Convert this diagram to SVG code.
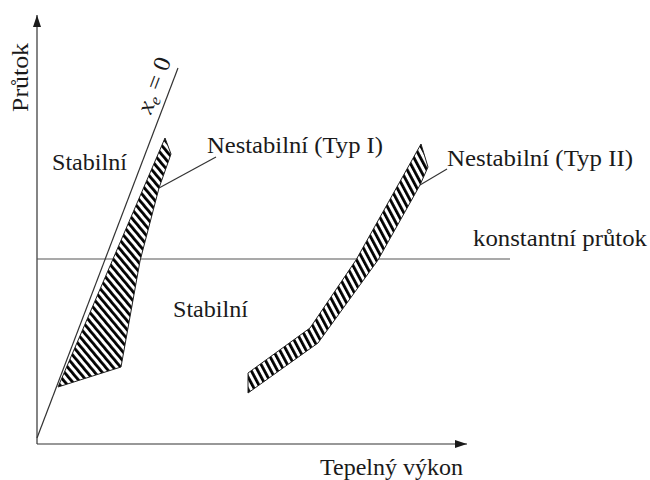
<svg xmlns="http://www.w3.org/2000/svg" width="650" height="480" viewBox="0 0 650 480">
<style>
.ln{stroke:#333;stroke-width:1.2;fill:none}
.t{font-family:"Liberation Serif","DejaVu Serif",serif;font-size:23px;fill:#1a1a1a}
.hatch{stroke:#222;stroke-width:1}
</style>
<defs>
<pattern id="h1" patternUnits="userSpaceOnUse" width="5.8" height="20" patternTransform="rotate(-40)">
<rect x="0" y="0" width="5.8" height="20" fill="#fff"/>
<rect x="0" y="0" width="2.8" height="20" fill="#000"/>
</pattern>
<pattern id="h2" patternUnits="userSpaceOnUse" width="5.8" height="20" patternTransform="rotate(-28)">
<rect x="0" y="0" width="5.8" height="20" fill="#fff"/>
<rect x="0" y="0" width="2.8" height="20" fill="#000"/>
</pattern>
<marker id="arr" markerWidth="12" markerHeight="8" refX="12" refY="4" orient="auto" markerUnits="userSpaceOnUse">
<path d="M0,0 L12,4 L0,8 Z" fill="#1a1a1a"/>
</marker>
</defs>
<g id="connectors">
<line class="ln" x1="37" y1="444" x2="37" y2="15" marker-end="url(#arr)"/>
<line class="ln" x1="37" y1="444" x2="467" y2="444" marker-end="url(#arr)"/>
<line class="ln" x1="37" y1="259" x2="510" y2="259" style="stroke:#555"/>
<line class="ln" x1="37" y1="438" x2="178" y2="68"/>
<line class="ln" x1="159" y1="188" x2="216" y2="157"/>
<line class="ln" x1="420" y1="185" x2="447" y2="169"/>
</g>
<g id="typ1">
<polygon class="hatch" fill="url(#h1)" points="165,138 171,154 159,188 140,261 121,367 58,387"/>
</g>
<g id="typ2">
<polygon class="hatch" fill="url(#h2)" points="421,144 428,167 420,185 378,260 318,343 248,393 248,373 310,328 356,260"/>
</g>
<g id="labels">
<text class="t" transform="translate(28,112) rotate(-90)" textLength="69" lengthAdjust="spacingAndGlyphs">Průtok</text>
<text class="t" transform="translate(151,115) rotate(-69.3)" style="font-size:24px" textLength="58" lengthAdjust="spacingAndGlyphs"><tspan font-style="italic">x</tspan><tspan font-style="italic" font-size="16" dy="4">e</tspan><tspan dy="-4"> = 0</tspan></text>
<text class="t" x="52" y="170" textLength="75" lengthAdjust="spacingAndGlyphs">Stabilní</text>
<text class="t" x="173" y="317" textLength="75" lengthAdjust="spacingAndGlyphs">Stabilní</text>
<text class="t" x="207" y="153" textLength="176" lengthAdjust="spacingAndGlyphs">Nestabilní (Typ I)</text>
<text class="t" x="447" y="166" textLength="186" lengthAdjust="spacingAndGlyphs">Nestabilní (Typ II)</text>
<text class="t" x="473" y="246" textLength="174" lengthAdjust="spacingAndGlyphs">konstantní průtok</text>
<text class="t" x="320" y="475" textLength="143" lengthAdjust="spacingAndGlyphs">Tepelný výkon</text>
</g>
</svg>
